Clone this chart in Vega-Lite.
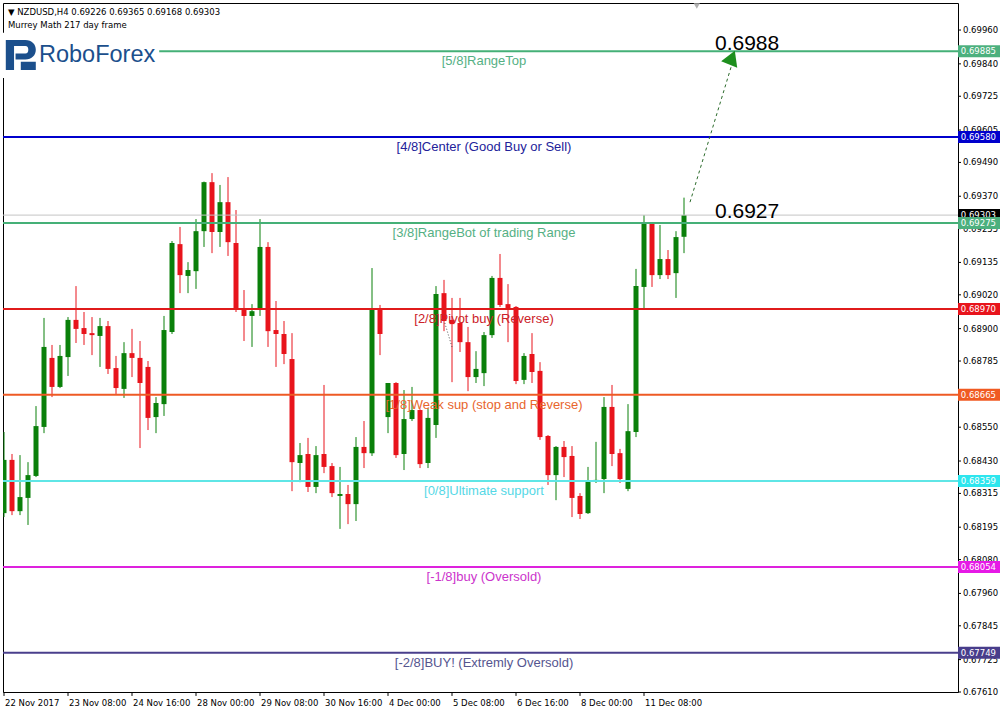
{
  "$schema": "https://vega.github.io/schema/vega-lite/v6.json",
  "width": 955,
  "height": 689,
  "autosize": {"type": "none"},
  "padding": {"left": 3, "top": 3, "right": 44, "bottom": 20},
  "background": "white",
  "config": {"view": {"stroke": "black", "strokeWidth": 1}, "font": "DejaVu Sans", "scale": {"continuousPadding": 0}},
  "datasets": {
    "candles": [
      {"i":0,"o":0.68245,"h":0.68533,"l":0.68231,"c":0.68434},
      {"i":1,"o":0.68434,"h":0.68455,"l":0.68238,"c":0.68252},
      {"i":2,"o":0.68252,"h":0.68451,"l":0.68238,"c":0.68302},
      {"i":3,"o":0.68299,"h":0.68426,"l":0.68203,"c":0.68380},
      {"i":4,"o":0.68377,"h":0.68625,"l":0.68373,"c":0.68554},
      {"i":5,"o":0.68551,"h":0.68938,"l":0.68529,"c":0.68835},
      {"i":6,"o":0.68796,"h":0.68842,"l":0.68657,"c":0.68693},
      {"i":7,"o":0.68693,"h":0.68842,"l":0.68689,"c":0.68803},
      {"i":8,"o":0.68799,"h":0.68941,"l":0.68732,"c":0.68931},
      {"i":9,"o":0.68931,"h":0.69051,"l":0.68849,"c":0.68899},
      {"i":10,"o":0.68902,"h":0.68959,"l":0.68842,"c":0.68881},
      {"i":11,"o":0.68884,"h":0.68941,"l":0.68806,"c":0.68877},
      {"i":12,"o":0.68874,"h":0.68938,"l":0.68764,"c":0.68909},
      {"i":13,"o":0.68909,"h":0.68927,"l":0.68739,"c":0.68757},
      {"i":14,"o":0.68760,"h":0.68803,"l":0.68668,"c":0.68689},
      {"i":15,"o":0.68686,"h":0.68852,"l":0.68654,"c":0.68813},
      {"i":16,"o":0.68813,"h":0.68899,"l":0.68728,"c":0.68796},
      {"i":17,"o":0.68796,"h":0.68856,"l":0.68476,"c":0.68707},
      {"i":18,"o":0.68764,"h":0.68785,"l":0.68540,"c":0.68583},
      {"i":19,"o":0.68586,"h":0.68657,"l":0.68529,"c":0.68636},
      {"i":20,"o":0.68632,"h":0.68945,"l":0.68590,"c":0.68895},
      {"i":21,"o":0.68888,"h":0.69211,"l":0.68881,"c":0.69204},
      {"i":22,"o":0.69200,"h":0.69261,"l":0.69026,"c":0.69090},
      {"i":23,"o":0.69087,"h":0.69136,"l":0.69026,"c":0.69108},
      {"i":24,"o":0.69104,"h":0.69289,"l":0.69041,"c":0.69246},
      {"i":25,"o":0.69246,"h":0.69422,"l":0.69190,"c":0.69420},
      {"i":26,"o":0.69420,"h":0.69452,"l":0.69168,"c":0.69243},
      {"i":27,"o":0.69243,"h":0.69410,"l":0.69190,"c":0.69349},
      {"i":28,"o":0.69349,"h":0.69438,"l":0.69158,"c":0.69207},
      {"i":29,"o":0.69204,"h":0.69321,"l":0.68959,"c":0.68973},
      {"i":30,"o":0.68973,"h":0.69037,"l":0.68856,"c":0.68945},
      {"i":31,"o":0.68945,"h":0.68987,"l":0.68835,"c":0.68962},
      {"i":32,"o":0.68973,"h":0.69289,"l":0.68945,"c":0.69190},
      {"i":33,"o":0.69190,"h":0.69207,"l":0.68835,"c":0.68891},
      {"i":34,"o":0.68895,"h":0.68998,"l":0.68764,"c":0.68881},
      {"i":35,"o":0.68881,"h":0.68927,"l":0.68774,"c":0.68810},
      {"i":36,"o":0.68792,"h":0.68884,"l":0.68323,"c":0.68426},
      {"i":37,"o":0.68423,"h":0.68494,"l":0.68355,"c":0.68451},
      {"i":38,"o":0.68455,"h":0.68512,"l":0.68320,"c":0.68338},
      {"i":39,"o":0.68338,"h":0.68483,"l":0.68316,"c":0.68451},
      {"i":40,"o":0.68455,"h":0.68700,"l":0.68387,"c":0.68409},
      {"i":41,"o":0.68412,"h":0.68423,"l":0.68302,"c":0.68316},
      {"i":42,"o":0.68306,"h":0.68409,"l":0.68189,"c":0.68313},
      {"i":43,"o":0.68313,"h":0.68345,"l":0.68206,"c":0.68277},
      {"i":44,"o":0.68277,"h":0.68515,"l":0.68217,"c":0.68480},
      {"i":45,"o":0.68480,"h":0.68572,"l":0.68405,"c":0.68458},
      {"i":46,"o":0.68458,"h":0.69115,"l":0.68448,"c":0.68970},
      {"i":47,"o":0.68970,"h":0.68984,"l":0.68806,"c":0.68881},
      {"i":48,"o":0.68586,"h":0.68707,"l":0.68529,"c":0.68707},
      {"i":49,"o":0.68707,"h":0.68710,"l":0.68441,"c":0.68451},
      {"i":50,"o":0.68455,"h":0.68682,"l":0.68398,"c":0.68579},
      {"i":51,"o":0.68579,"h":0.68693,"l":0.68572,"c":0.68611},
      {"i":52,"o":0.68611,"h":0.68614,"l":0.68405,"c":0.68419},
      {"i":53,"o":0.68423,"h":0.68618,"l":0.68405,"c":0.68583},
      {"i":54,"o":0.68558,"h":0.69051,"l":0.68512,"c":0.69023},
      {"i":55,"o":0.69026,"h":0.69073,"l":0.68891,"c":0.68927},
      {"i":56,"o":0.68931,"h":0.69009,"l":0.68710,"c":0.68916},
      {"i":57,"o":0.68920,"h":0.69009,"l":0.68817,"c":0.68852},
      {"i":58,"o":0.68852,"h":0.68906,"l":0.68678,"c":0.68728},
      {"i":59,"o":0.68728,"h":0.68820,"l":0.68707,"c":0.68757},
      {"i":60,"o":0.68742,"h":0.68888,"l":0.68696,"c":0.68877},
      {"i":61,"o":0.68877,"h":0.69087,"l":0.68867,"c":0.69080},
      {"i":62,"o":0.69080,"h":0.69165,"l":0.68977,"c":0.68984},
      {"i":63,"o":0.68987,"h":0.69058,"l":0.68852,"c":0.68973},
      {"i":64,"o":0.68977,"h":0.68980,"l":0.68703,"c":0.68714},
      {"i":65,"o":0.68718,"h":0.68813,"l":0.68703,"c":0.68803},
      {"i":66,"o":0.68810,"h":0.68884,"l":0.68707,"c":0.68746},
      {"i":67,"o":0.68750,"h":0.68781,"l":0.68505,"c":0.68515},
      {"i":68,"o":0.68519,"h":0.68522,"l":0.68345,"c":0.68380},
      {"i":69,"o":0.68380,"h":0.68483,"l":0.68291,"c":0.68480},
      {"i":70,"o":0.68480,"h":0.68501,"l":0.68373,"c":0.68444},
      {"i":71,"o":0.68448,"h":0.68483,"l":0.68231,"c":0.68299},
      {"i":72,"o":0.68306,"h":0.68316,"l":0.68224,"c":0.68242},
      {"i":73,"o":0.68245,"h":0.68409,"l":0.68242,"c":0.68359},
      {"i":74,"o":0.68359,"h":0.68498,"l":0.68352,"c":0.68363},
      {"i":75,"o":0.68366,"h":0.68657,"l":0.68316,"c":0.68622},
      {"i":76,"o":0.68622,"h":0.68700,"l":0.68412,"c":0.68455},
      {"i":77,"o":0.68458,"h":0.68473,"l":0.68352,"c":0.68366},
      {"i":78,"o":0.68331,"h":0.68632,"l":0.68323,"c":0.68536},
      {"i":79,"o":0.68533,"h":0.69112,"l":0.68515,"c":0.69051},
      {"i":80,"o":0.69048,"h":0.69303,"l":0.68973,"c":0.69275},
      {"i":81,"o":0.69275,"h":0.69278,"l":0.69048,"c":0.69090},
      {"i":82,"o":0.69090,"h":0.69268,"l":0.69076,"c":0.69147},
      {"i":83,"o":0.69147,"h":0.69179,"l":0.69076,"c":0.69090},
      {"i":84,"o":0.69097,"h":0.69246,"l":0.69009,"c":0.69225},
      {"i":85,"o":0.69226,"h":0.69365,"l":0.69168,"c":0.69303}
    ],
    "levels": [
      {"name": "[5/8]RangeTop", "price": 0.69885},
      {"name": "[4/8]Center (Good Buy or Sell)", "price": 0.69580},
      {"name": "[3/8]RangeBot of trading Range", "price": 0.69275},
      {"name": "[2/8]Pivot buy (Reverse)", "price": 0.68970},
      {"name": "[1/8]Weak sup (stop and Reverse)", "price": 0.68665},
      {"name": "[0/8]Ultimate support", "price": 0.68359},
      {"name": "[-1/8]buy (Oversold)", "price": 0.68054},
      {"name": "[-2/8]BUY! (Extremly Oversold)", "price": 0.67749}
    ],
    "bid": [{"price": 0.69303}],
    "yticks": [
      {"v": 0.6996}, {"v": 0.6984}, {"v": 0.69725}, {"v": 0.69605}, {"v": 0.6949}, {"v": 0.6937}, {"v": 0.69255},
      {"v": 0.69135}, {"v": 0.6902}, {"v": 0.689}, {"v": 0.68785}, {"v": 0.6855}, {"v": 0.6843},
      {"v": 0.68315}, {"v": 0.68195}, {"v": 0.6808}, {"v": 0.6796}, {"v": 0.67845}, {"v": 0.67725}, {"v": 0.6761}
    ],
    "xticks": [
      {"i": 0, "label": "22 Nov 2017"},
      {"i": 8, "label": "23 Nov 08:00"},
      {"i": 16, "label": "24 Nov 16:00"},
      {"i": 24, "label": "28 Nov 00:00"},
      {"i": 32, "label": "29 Nov 08:00"},
      {"i": 40, "label": "30 Nov 16:00"},
      {"i": 48, "label": "4 Dec 00:00"},
      {"i": 56, "label": "5 Dec 08:00"},
      {"i": 64, "label": "6 Dec 16:00"},
      {"i": 72, "label": "8 Dec 00:00"},
      {"i": 80, "label": "11 Dec 08:00"}
    ],
    "header": [
      {"i": 0.5, "price": 0.70024, "text": "▼ NZDUSD,H4  0.69226 0.69365 0.69168 0.69303"},
      {"i": 0.5, "price": 0.69978, "text": "Murrey Math 217 day frame"}
    ],
    "notes": [
      {"i": 88.875, "price": 0.69889, "text": "0.6988"},
      {"i": 88.875, "price": 0.69293, "text": "0.6927"}
    ],
    "one": [{}]
  },
  "layer": [
    {
      "data": {"name": "candles"},
      "mark": {"type": "rule", "strokeWidth": 1, "clip": true},
      "encoding": {
        "x": {"field": "i", "type": "quantitative", "axis": null, "scale": {"domain": [-0.125, 119.25], "nice": false, "zero": false, "padding": 0}},
        "y": {"field": "l", "type": "quantitative", "axis": null, "scale": {"domain": [0.6761, 0.70056], "nice": false, "zero": false, "padding": 0}},
        "y2": {"field": "h"},
        "color": {"condition": {"test": "datum.c >= datum.o", "value": "#0a800a"}, "value": "#e8141c"}
      }
    },
    {
      "data": {"name": "candles"},
      "mark": {"type": "bar", "orient": "vertical", "size": 5, "clip": true},
      "encoding": {
        "x": {"field": "i", "type": "quantitative", "axis": null, "scale": {"domain": [-0.125, 119.25], "nice": false, "zero": false, "padding": 0}},
        "y": {"field": "o", "type": "quantitative", "axis": null, "scale": {"domain": [0.6761, 0.70056], "nice": false, "zero": false, "padding": 0}},
        "y2": {"field": "c"},
        "color": {"condition": {"test": "datum.c >= datum.o", "value": "#0a800a"}, "value": "#e8141c"}
      }
    },
    {
      "data": {"name": "xticks"},
      "mark": {"type": "rule", "clip": false, "color": "black", "strokeWidth": 1},
      "encoding": {
        "x": {"field": "i", "type": "quantitative", "axis": null, "scale": {"domain": [-0.125, 119.25], "nice": false, "zero": false, "padding": 0}},
        "y": {"datum": 0.6761, "type": "quantitative", "axis": null, "scale": {"domain": [0.6761, 0.70056], "nice": false, "zero": false, "padding": 0}},
        "y2": {"datum": 0.67596}
      }
    },
    {
      "data": {"name": "xticks"},
      "mark": {"type": "text", "clip": false, "color": "black", "font": "DejaVu Sans", "fontSize": 8.5, "align": "left", "baseline": "middle", "dx": 1, "dy": 11},
      "encoding": {
        "x": {"field": "i", "type": "quantitative", "axis": null, "scale": {"domain": [-0.125, 119.25], "nice": false, "zero": false, "padding": 0}},
        "y": {"datum": 0.6761, "type": "quantitative", "axis": null, "scale": {"domain": [0.6761, 0.70056], "nice": false, "zero": false, "padding": 0}},
        "text": {"field": "label"}
      }
    },
    {
      "data": {"name": "yticks"},
      "mark": {"type": "rule", "clip": false, "color": "black", "strokeWidth": 1},
      "encoding": {
        "x": {"datum": 119.25, "type": "quantitative", "axis": null, "scale": {"domain": [-0.125, 119.25], "nice": false, "zero": false, "padding": 0}},
        "x2": {"datum": 119.625},
        "y": {"field": "v", "type": "quantitative", "axis": null, "scale": {"domain": [0.6761, 0.70056], "nice": false, "zero": false, "padding": 0}}
      }
    },
    {
      "data": {"name": "yticks"},
      "mark": {"type": "text", "clip": false, "color": "black", "font": "DejaVu Sans", "fontSize": 8.5, "align": "left", "baseline": "middle", "dx": 5},
      "encoding": {
        "x": {"datum": 119.25, "type": "quantitative", "axis": null, "scale": {"domain": [-0.125, 119.25], "nice": false, "zero": false, "padding": 0}},
        "y": {"field": "v", "type": "quantitative", "axis": null, "scale": {"domain": [0.6761, 0.70056], "nice": false, "zero": false, "padding": 0}},
        "text": {"field": "v", "type": "quantitative", "format": ".5f"}
      }
    },
    {
      "data": {"name": "bid"},
      "mark": {"type": "rule", "strokeWidth": 1, "color": "#c4c4c4"},
      "encoding": {"y": {"field": "price", "type": "quantitative", "axis": null, "scale": {"domain": [0.6761, 0.70056], "nice": false, "zero": false, "padding": 0}}}
    },
    {
      "data": {"name": "levels"},
      "mark": {"type": "rule", "strokeWidth": 2},
      "encoding": {
        "y": {"field": "price", "type": "quantitative", "axis": null, "scale": {"domain": [0.6761, 0.70056], "nice": false, "zero": false, "padding": 0}},
        "stroke": {"field": "name", "type": "nominal", "legend": null,
                   "scale": {"domain": ["[5/8]RangeTop", "[4/8]Center (Good Buy or Sell)", "[3/8]RangeBot of trading Range", "[2/8]Pivot buy (Reverse)", "[1/8]Weak sup (stop and Reverse)", "[0/8]Ultimate support", "[-1/8]buy (Oversold)", "[-2/8]BUY! (Extremly Oversold)"],
                             "range": ["#45b077", "#0000cd", "#45b077", "#e01b1b", "#ee5a24", "#5fe6e6", "#dd22dd", "#4a3f8c"]}}
      }
    },
    {
      "data": {"name": "levels"},
      "mark": {"type": "text", "font": "Liberation Sans", "fontSize": 13, "align": "center", "baseline": "middle", "dy": 10},
      "encoding": {
        "x": {"datum": 60, "type": "quantitative", "axis": null, "scale": {"domain": [-0.125, 119.25], "nice": false, "zero": false, "padding": 0}},
        "y": {"field": "price", "type": "quantitative", "axis": null, "scale": {"domain": [0.6761, 0.70056], "nice": false, "zero": false, "padding": 0}},
        "text": {"field": "name"},
        "color": {"field": "name", "type": "nominal", "legend": null,
                  "scale": {"domain": ["[5/8]RangeTop", "[4/8]Center (Good Buy or Sell)", "[3/8]RangeBot of trading Range", "[2/8]Pivot buy (Reverse)", "[1/8]Weak sup (stop and Reverse)", "[0/8]Ultimate support", "[-1/8]buy (Oversold)", "[-2/8]BUY! (Extremly Oversold)"],
                            "range": ["#55b084", "#22229a", "#55b084", "#cc2228", "#e8652d", "#55d8e6", "#cc33cc", "#55558f"]}}
      }
    },
    {
      "data": {"name": "bid"},
      "mark": {"type": "bar", "orient": "horizontal", "size": 12, "clip": false, "color": "black"},
      "encoding": {
        "x": {"datum": 119.25, "type": "quantitative", "axis": null, "scale": {"domain": [-0.125, 119.25], "nice": false, "zero": false, "padding": 0}},
        "x2": {"datum": 124.5},
        "y": {"field": "price", "type": "quantitative", "axis": null, "scale": {"domain": [0.6761, 0.70056], "nice": false, "zero": false, "padding": 0}}
      }
    },
    {
      "data": {"name": "bid"},
      "mark": {"type": "text", "clip": false, "color": "white", "font": "DejaVu Sans", "fontSize": 8.5, "align": "left", "baseline": "middle"},
      "encoding": {
        "x": {"datum": 119.6, "type": "quantitative", "axis": null, "scale": {"domain": [-0.125, 119.25], "nice": false, "zero": false, "padding": 0}},
        "y": {"field": "price", "type": "quantitative", "axis": null, "scale": {"domain": [0.6761, 0.70056], "nice": false, "zero": false, "padding": 0}},
        "text": {"field": "price", "type": "quantitative", "format": ".5f"}
      }
    },
    {
      "data": {"name": "levels"},
      "mark": {"type": "bar", "orient": "horizontal", "size": 12, "clip": false},
      "encoding": {
        "x": {"datum": 119.25, "type": "quantitative", "axis": null, "scale": {"domain": [-0.125, 119.25], "nice": false, "zero": false, "padding": 0}},
        "x2": {"datum": 124.5},
        "y": {"field": "price", "type": "quantitative", "axis": null, "scale": {"domain": [0.6761, 0.70056], "nice": false, "zero": false, "padding": 0}},
        "fill": {"field": "name", "type": "nominal", "legend": null,
                 "scale": {"domain": ["[5/8]RangeTop", "[4/8]Center (Good Buy or Sell)", "[3/8]RangeBot of trading Range", "[2/8]Pivot buy (Reverse)", "[1/8]Weak sup (stop and Reverse)", "[0/8]Ultimate support", "[-1/8]buy (Oversold)", "[-2/8]BUY! (Extremly Oversold)"],
                           "range": ["#4cb07e", "#0000cc", "#4cb07e", "#e8141c", "#f05a22", "#2ee6ee", "#e619e6", "#483d8b"]}}
      }
    },
    {
      "data": {"name": "levels"},
      "mark": {"type": "text", "clip": false, "color": "white", "font": "DejaVu Sans", "fontSize": 8.5, "align": "left", "baseline": "middle"},
      "encoding": {
        "x": {"datum": 119.6, "type": "quantitative", "axis": null, "scale": {"domain": [-0.125, 119.25], "nice": false, "zero": false, "padding": 0}},
        "y": {"field": "price", "type": "quantitative", "axis": null, "scale": {"domain": [0.6761, 0.70056], "nice": false, "zero": false, "padding": 0}},
        "text": {"field": "price", "type": "quantitative", "format": ".5f"}
      }
    },
    {
      "data": {"name": "one"},
      "mark": {"type": "rect", "color": "white"},
      "encoding": {
        "x": {"datum": -0.125, "type": "quantitative", "axis": null, "scale": {"domain": [-0.125, 119.25], "nice": false, "zero": false, "padding": 0}},
        "x2": {"datum": 19.4},
        "y": {"datum": 0.69950, "type": "quantitative", "axis": null, "scale": {"domain": [0.6761, 0.70056], "nice": false, "zero": false, "padding": 0}},
        "y2": {"datum": 0.69790}
      }
    },
    {
      "data": {"name": "one"},
      "mark": {"type": "point", "filled": true, "color": "#1b4f8c", "opacity": 1, "size": 900,
               "shape": "M-1,-1H0.3C0.75,-1 1,-0.7 1,-0.35C1,0 0.75,0.3 0.3,0.3H-0.35V-0.1H0.3C0.45,-0.1 0.5,-0.2 0.5,-0.35C0.5,-0.5 0.45,-0.6 0.3,-0.6H-0.45V1H-1Z M0,0.45H1V1H0Z"},
      "encoding": {
        "x": {"datum": 2.1, "type": "quantitative", "axis": null, "scale": {"domain": [-0.125, 119.25], "nice": false, "zero": false, "padding": 0}},
        "y": {"datum": 0.69871, "type": "quantitative", "axis": null, "scale": {"domain": [0.6761, 0.70056], "nice": false, "zero": false, "padding": 0}}
      }
    },
    {
      "data": {"name": "one"},
      "mark": {"type": "text", "text": "RoboForex", "font": "Liberation Sans", "fontSize": 23.5, "color": "#1b4f8c", "align": "left", "baseline": "alphabetic"},
      "encoding": {
        "x": {"datum": 4.375, "type": "quantitative", "axis": null, "scale": {"domain": [-0.125, 119.25], "nice": false, "zero": false, "padding": 0}},
        "y": {"datum": 0.69845, "type": "quantitative", "axis": null, "scale": {"domain": [0.6761, 0.70056], "nice": false, "zero": false, "padding": 0}}
      }
    },
    {
      "data": {"name": "header"},
      "mark": {"type": "text", "font": "DejaVu Sans", "fontSize": 8.5, "color": "black", "align": "left", "baseline": "middle"},
      "encoding": {
        "x": {"field": "i", "type": "quantitative", "axis": null, "scale": {"domain": [-0.125, 119.25], "nice": false, "zero": false, "padding": 0}},
        "y": {"field": "price", "type": "quantitative", "axis": null, "scale": {"domain": [0.6761, 0.70056], "nice": false, "zero": false, "padding": 0}},
        "text": {"field": "text"}
      }
    },
    {
      "data": {"name": "notes"},
      "mark": {"type": "text", "font": "Liberation Sans", "fontSize": 21, "color": "black", "align": "left", "baseline": "alphabetic"},
      "encoding": {
        "x": {"field": "i", "type": "quantitative", "axis": null, "scale": {"domain": [-0.125, 119.25], "nice": false, "zero": false, "padding": 0}},
        "y": {"field": "price", "type": "quantitative", "axis": null, "scale": {"domain": [0.6761, 0.70056], "nice": false, "zero": false, "padding": 0}},
        "text": {"field": "text"}
      }
    },
    {
      "data": {"name": "one"},
      "mark": {"type": "rule", "strokeDash": [3, 3], "strokeWidth": 1, "color": "#2a6a2a"},
      "encoding": {
        "x": {"datum": 85.75, "type": "quantitative", "axis": null, "scale": {"domain": [-0.125, 119.25], "nice": false, "zero": false, "padding": 0}},
        "y": {"datum": 0.69349, "type": "quantitative", "axis": null, "scale": {"domain": [0.6761, 0.70056], "nice": false, "zero": false, "padding": 0}},
        "x2": {"datum": 90.9},
        "y2": {"datum": 0.69830}
      }
    },
    {
      "data": {"name": "one"},
      "mark": {"type": "rule", "strokeDash": [1, 2], "strokeWidth": 1, "color": "#555555"},
      "encoding": {
        "x": {"datum": 55.1, "type": "quantitative", "axis": null, "scale": {"domain": [-0.125, 119.25], "nice": false, "zero": false, "padding": 0}},
        "y": {"datum": 0.68920, "type": "quantitative", "axis": null, "scale": {"domain": [0.6761, 0.70056], "nice": false, "zero": false, "padding": 0}},
        "x2": {"datum": 56.0},
        "y2": {"datum": 0.68835}
      }
    },
    {
      "data": {"name": "one"},
      "mark": {"type": "point", "shape": "triangle-up", "filled": true, "color": "#1e8f1e", "opacity": 1, "size": 300, "angle": 22},
      "encoding": {
        "x": {"datum": 91.0, "type": "quantitative", "axis": null, "scale": {"domain": [-0.125, 119.25], "nice": false, "zero": false, "padding": 0}},
        "y": {"datum": 0.69862, "type": "quantitative", "axis": null, "scale": {"domain": [0.6761, 0.70056], "nice": false, "zero": false, "padding": 0}}
      }
    },
    {
      "data": {"name": "one"},
      "mark": {"type": "point", "shape": "triangle-down", "filled": true, "color": "#b0b0b0", "opacity": 1, "size": 40},
      "encoding": {
        "x": {"datum": 86.6, "type": "quantitative", "axis": null, "scale": {"domain": [-0.125, 119.25], "nice": false, "zero": false, "padding": 0}},
        "y": {"datum": 0.70045, "type": "quantitative", "axis": null, "scale": {"domain": [0.6761, 0.70056], "nice": false, "zero": false, "padding": 0}}
      }
    }
  ]
}
